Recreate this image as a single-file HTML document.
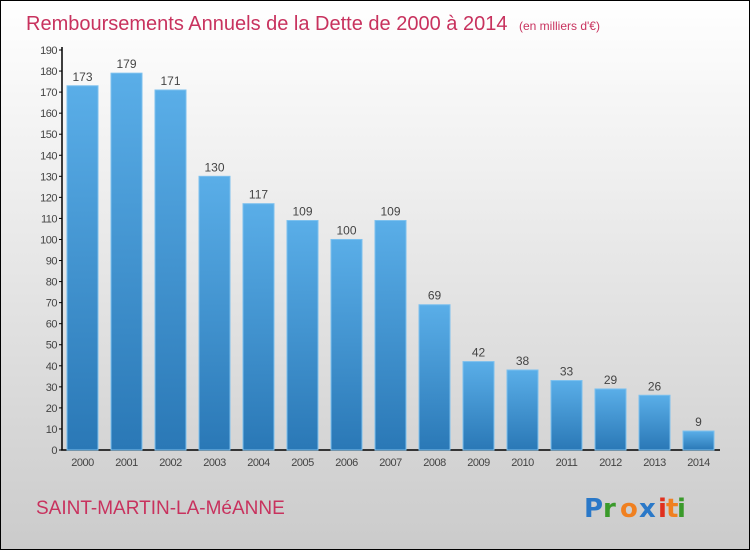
<!DOCTYPE html>
<html><head><meta charset="utf-8"><style>
html,body{margin:0;padding:0}
body{width:750px;height:550px;overflow:hidden;font-family:"Liberation Sans",sans-serif}
#frame{position:absolute;left:0;top:0;width:748px;height:548px;border:1px solid #000;background:linear-gradient(#fff 0%,#f0f0f0 30%,#d8d8d8 75%,#cbcbcb 100%)}
</style></head><body>
<div id="frame">
<svg width="750" height="550" id="chart" style="position:absolute;left:-1px;top:-1px">
<defs><linearGradient id="bg" x1="0" y1="0" x2="0" y2="1"><stop offset="0" stop-color="#5aaee8"/><stop offset="1" stop-color="#2a78b6"/></linearGradient></defs>
<text x="26" y="30" font-size="20" fill="#c8325e" font-family="Liberation Sans,sans-serif">Remboursements Annuels de la Dette de 2000 à 2014 <tspan font-size="12" dx="6">(en milliers d'€)</tspan></text>
<g id="axes"></g><g id="bars"></g>
<text x="36" y="514" font-size="19" fill="#c8325e">SAINT-MARTIN-LA-MéANNE</text>
<g font-size="26" font-weight="bold" font-family="DejaVu Sans,sans-serif">
<text x="584" y="517" fill="#2a78c8">P</text><text x="603" y="517" fill="#3a9a2a">r</text><text x="620" y="517" fill="#f08020">o</text><text x="639" y="517" fill="#2a78c8">x</text><text x="658" y="517" fill="#e0301e">i</text><text x="666" y="517" fill="#f08020">t</text><text x="677" y="517" fill="#3a9a2a">i</text>
</g>
</svg>
</div>
<script>
const years=["2000","2001","2002","2003","2004","2005","2006","2007","2008","2009","2010","2011","2012","2013","2014"];
const values=[173,179,171,130,117,109,100,109,69,42,38,33,29,26,9];
const yTicks=[0,10,20,30,40,50,60,70,80,90,100,110,120,130,140,150,160,170,180,190];
const NS="http://www.w3.org/2000/svg";
const y0=450,yTop=50,yMax=190;
const y=v=>y0-(v/yMax)*(y0-yTop);
const x=i=>67+i*44;
const bw=31;
function mk(t,a,p,txt){const e=document.createElementNS(NS,t);for(const k in a)e.setAttribute(k,a[k]);if(txt!==undefined)e.textContent=txt;p.appendChild(e);return e;}
const ax=document.getElementById('axes'),bg=document.getElementById('bars');
const yl=mk('line',{x1:62,y1:y0,x2:62,y2:yTop-3,stroke:'#000','stroke-width':1.5},ax);


const xl=mk('line',{x1:61,y1:y0,x2:720,y2:y0,stroke:'#000','stroke-width':1.5},ax);


yTicks.forEach(t=>{
  mk('line',{x1:59,y1:y(t),x2:62,y2:y(t),stroke:'#000'},ax);
  const tx=mk('text',{x:57,y:y(t)+4,'text-anchor':'end','font-size':11,fill:'#444','letter-spacing':'-0.5'},ax,t);
  
  
});
values.forEach((v,i)=>{
  const r=mk('rect',{x:x(i),y:y(v),width:bw,height:y0-y(v),fill:'url(#bg)',stroke:'#7cc0ee','stroke-width':1},bg);
  
  
  const l=mk('text',{x:x(i)+bw/2,y:y(v)-5,'text-anchor':'middle','font-size':12,fill:'#444'},bg,v);
  
  
  const xt=mk('text',{x:x(i)+bw/2,y:466,'text-anchor':'middle','font-size':11,fill:'#444','letter-spacing':'-0.5'},ax,years[i]);
  
  
});
</script>
</body></html>
